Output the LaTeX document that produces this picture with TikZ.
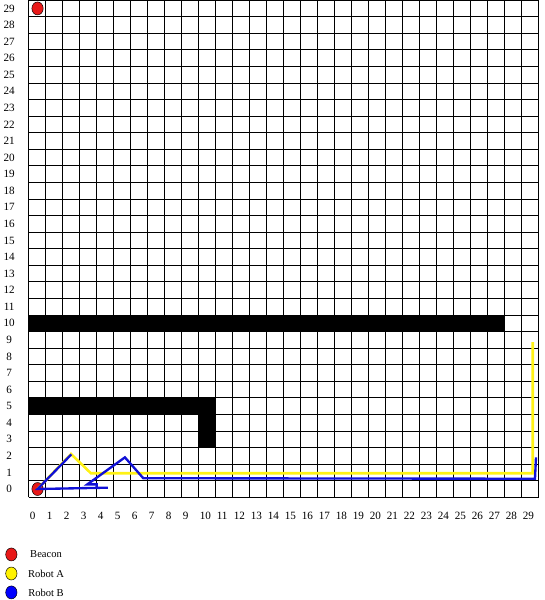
\documentclass[tikz,border=0pt]{standalone}
\usepackage{fontspec}
\setmainfont{Liberation Serif}
\usetikzlibrary{positioning, shapes.geometric}

\definecolor{beaconred}{RGB}{232,24,24}
\definecolor{robotayellow}{RGB}{255,242,20}
\definecolor{robotbblue}{RGB}{16,16,214}

\begin{document}
\begin{tikzpicture}[
    x=0.51cm, y=0.4971cm,
    gridline/.style = {black, line width=0.75pt},
    wall/.style     = {fill=black, draw=none},
    marker/.style   = {ellipse, draw=black, line width=0.4pt, inner sep=0pt,
                       minimum width=0.34cm, minimum height=0.39cm},
    tick/.style     = {font=\fontsize{9.5}{10}\selectfont, inner sep=0pt},
    legtext/.style  = {font=\fontsize{9}{10}\selectfont, inner sep=0pt},
    patha/.style    = {robotayellow, line width=2.2pt, line join=miter},
    pathb/.style    = {robotbblue, line width=2pt, line join=miter}
]

\useasboundingbox (-1.688,-6.198) rectangle (30.312,30.01);

% =====================
% Walls
% =====================

\fill[wall] (0,10) rectangle (28,11);
\fill[wall] (0,5) rectangle (11,6);
\fill[wall] (10,3) rectangle (11,5);

% =====================
% Grid and axis numbers
% =====================

\foreach \i in {0,...,30} {
    \draw[gridline] (\i,0) -- (\i,30);
    \draw[gridline] (0,\i) -- (30,\i);
}

\foreach \i in {0,...,29} {
    \node[tick, anchor=base west] (xlab\i) at (\i+0.05,-1.32) {\i};
    \node[tick] (ylab\i) at (-1.15,\i+0.5) {\i};
}

% =====================
% Beacons
% =====================

\node[marker, fill=beaconred] (beacontop) at (0.52,29.5) {};
\node[marker, fill=beaconred] (beaconbot) at (0.52,0.5) {};

% =====================
% Robot paths
% =====================

% Robot A
\draw[patha] (beaconbot.center) -- (2.49,2.61) -- (3.66,1.45)
    -- (29.65,1.45) -- (29.65,9.37);

% Robot B
\draw[pathb] (beaconbot.center) -- (2.51,2.59) -- (beaconbot.center)
    -- (4.66,0.58) -- (4.0,0.58) -- (4.0,0.78) -- (3.45,0.78)
    -- (5.66,2.41) -- (6.74,1.15) -- (29.78,1.12) -- (29.84,2.41);

% =====================
% Legend
% =====================

\node[marker, fill=beaconred] (legbeacon) at (-1.02,-3.45) {};
\node[marker, fill=yellow] (lega) at (-1.02,-4.60) {};
\node[marker, fill=blue] (legb) at (-1.02,-5.74) {};

\node[legtext] (legbeacontext) at (1.02,-3.45) {Beacon};
\node[legtext] (legatext) at (1.02,-4.60) {Robot A};
\node[legtext] (legbtext) at (1.02,-5.74) {Robot B};

\end{tikzpicture}
\end{document}
